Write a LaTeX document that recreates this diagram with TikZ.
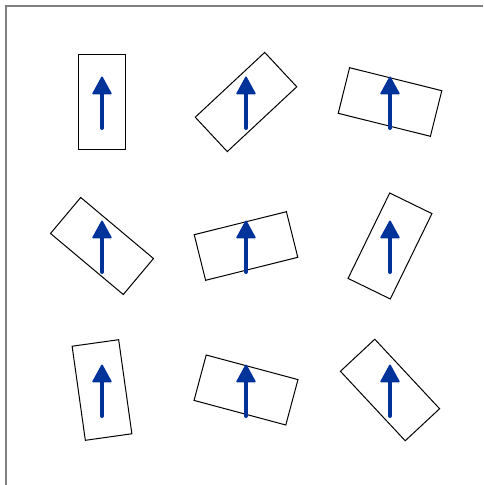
\documentclass[tikz,border=0pt]{standalone}
\usetikzlibrary{arrows.meta}
\definecolor{arrblue}{RGB}{0,51,153}
\definecolor{framegray}{RGB}{128,128,128}
\begin{document}
\begin{tikzpicture}[x=0.75pt,y=-0.75pt,
  box/.style={draw=black, line width=0.75pt, minimum width=35.25pt, minimum height=71.25pt, inner sep=0pt},
  arr/.style={draw=arrblue, line width=3pt, line cap=round, -{Triangle[width=15pt,length=14pt,round,line width=1.2pt]}},
  frame/.style={draw=framegray, line width=1.2pt}]
\useasboundingbox (0,0) rectangle (483,485);
\draw[frame] (6,485) -- (6,6) -- (483,6);
\foreach \i/\x/\y/\a in {1/102/102/0, 2/246/102/-47, 3/390/102/76,
                         4/102/246/50, 5/246/246/-76, 6/390/246/-26,
                         7/102/390/8, 8/246/390/75, 9/390/390/43}{
  \node[box, rotate=\a] (b\i) at (\x,\y) {};
  \coordinate (t\i) at (\x,\y+26);
  \coordinate (h\i) at (\x,\y-25.5);
  \draw[arr] (t\i) -- (h\i);
}
\end{tikzpicture}
\end{document}
